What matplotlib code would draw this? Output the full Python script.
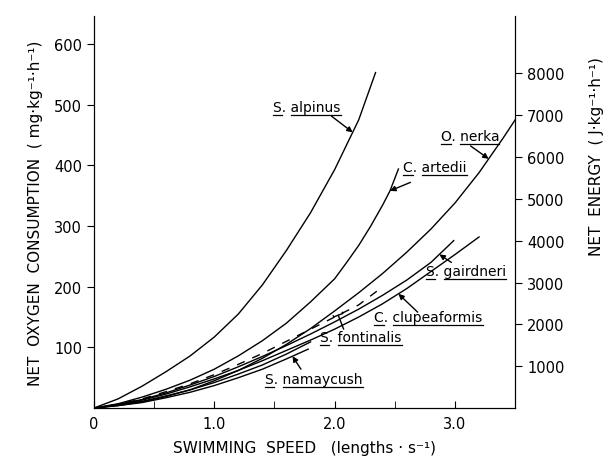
import numpy as np
import matplotlib.pyplot as plt

# 读图得到的数据 (速度: lengths/s, 耗氧: mg/kg/h)
alpinus_x = [0, 0.2, 0.4, 0.6, 0.8, 1.0, 1.2, 1.4, 1.6, 1.8, 2.0, 2.2, 2.34]
alpinus_y = [0, 15, 36, 60, 86, 117, 155, 203, 260, 322, 393, 475, 553]

artedii_x = [0, 0.2, 0.4, 0.6, 0.8, 1.0, 1.2, 1.4, 1.6, 1.8, 2.0, 2.1, 2.2, 2.3, 2.4, 2.46, 2.53]
artedii_y = [0, 7, 18, 31, 46, 64, 86, 111, 140, 175, 213, 240, 268, 300, 335, 358, 394]

nerka_x = [0, 0.2, 0.4, 0.6, 0.8, 1.0, 1.2, 1.4, 1.6, 1.8, 2.0, 2.2, 2.4, 2.6, 2.8, 3.0, 3.2, 3.4, 3.52]
nerka_y = [0, 4, 10, 19, 30, 45, 62, 82, 105, 131, 160, 190, 222, 257, 295, 338, 388, 445, 481]

gairdneri_x = [0, 0.2, 0.4, 0.6, 0.8, 1.0, 1.2, 1.4, 1.6, 1.8, 2.0, 2.2, 2.4, 2.6, 2.8, 2.99]
gairdneri_y = [0, 6, 14, 25, 38, 52, 68, 85, 103, 122, 142, 163, 186, 211, 240, 276]

clupea_x = [0, 0.2, 0.4, 0.6, 0.8, 1.0, 1.2, 1.4, 1.6, 1.8, 2.0, 2.2, 2.4, 2.6, 2.8, 3.0, 3.2]
clupea_y = [0, 5, 13, 23, 35, 48, 62, 78, 95, 112, 130, 150, 172, 197, 225, 253, 282]

fontinalis_x = [0, 0.2, 0.4, 0.6, 0.8, 1.0, 1.2, 1.4, 1.6, 1.8, 2.0, 2.2, 2.4]
fontinalis_y = [0, 6, 15, 27, 40, 55, 72, 90, 110, 130, 150, 170, 200]

namaycush_x = [0, 0.2, 0.4, 0.6, 0.8, 1.0, 1.2, 1.4, 1.6, 1.78]
namaycush_y = [0, 4, 9, 17, 26, 37, 50, 64, 81, 97]

other_x = [0, 0.2, 0.4, 0.6, 0.8, 1.0, 1.2, 1.4, 1.6, 1.8]
other_y = [0, 5, 11, 20, 30, 42, 56, 71, 89, 109]

J_PER_MG = 14.5  # 右轴换算

fig = plt.figure(figsize=(6.14, 4.64), dpi=100)
ax = fig.add_axes([0.153, 0.1185, 0.686, 0.8445])

lw = 1.0
ax.plot(alpinus_x, alpinus_y, color="black", lw=lw)
ax.plot(artedii_x, artedii_y, color="black", lw=lw)
ax.plot(nerka_x, nerka_y, color="black", lw=lw)
ax.plot(gairdneri_x, gairdneri_y, color="black", lw=lw)
ax.plot(clupea_x, clupea_y, color="black", lw=lw)
ax.plot(fontinalis_x, fontinalis_y, color="black", lw=lw, dashes=(6, 6))
ax.plot(namaycush_x, namaycush_y, color="black", lw=lw)
ax.plot(other_x, other_y, color="black", lw=lw)

ax.set_xlim(0, 3.5)
ax.set_ylim(0, 646)
ax.spines["top"].set_visible(False)
ax.set_xticks([0, 1, 2, 3])
ax.set_xticklabels(["0", "1.0", "2.0", "3.0"])
ax.set_xticks([0.5, 1.5, 2.5], minor=True)
ax.tick_params(axis="x", which="both", direction="in", length=5, labelsize=10.5, pad=6)
ax.set_yticks([100, 200, 300, 400, 500, 600])
ax.tick_params(axis="y", direction="out", length=5, labelsize=10.5)
ax.set_xlabel("SWIMMING  SPEED   (lengths · s⁻¹)", fontsize=11, labelpad=6)
ax.set_ylabel("NET  OXYGEN  CONSUMPTION  ( mg·kg⁻¹·h⁻¹)", fontsize=11, labelpad=8)

ax2 = ax.twinx()
ax2.set_ylim(0, 646 * J_PER_MG)
ax2.spines["top"].set_visible(False)
ax2.set_yticks([1000, 2000, 3000, 4000, 5000, 6000, 7000, 8000])
ax2.tick_params(axis="y", direction="out", length=5, labelsize=10.5)
ax2.set_ylabel("NET  ENERGY  ( J·kg⁻¹·h⁻¹)", fontsize=11)
ax2.yaxis.set_label_coords(1.175, 0.645)

# 标注: (属, 种, 文字位置, 箭尾, 箭头所指的 x, 曲线)
labels = [
    ("S", "alpinus", (1.49, 496), (1.975, 481), 2.15, alpinus_x, alpinus_y, "-|>"),
    ("O", "nerka", (2.88, 448), (3.13, 432), 3.28, nerka_x, nerka_y, "-|>"),
    ("C", "artedii", (2.57, 397), (2.63, 372), 2.46, artedii_x, artedii_y, "-|>"),
    ("S", "gairdneri", (2.76, 226), (2.97, 240), 2.87, gairdneri_x, gairdneri_y, "-|>"),
    ("C", "clupeaformis", (2.33, 150), (2.69, 158), 2.53, clupea_x, clupea_y, "-|>"),
    ("S", "fontinalis", (1.88, 117), (2.075, 130), 2.03, fontinalis_x, fontinalis_y, "-["),
    ("S", "namaycush", (1.425, 48), (1.72, 64), 1.65, namaycush_x, namaycush_y, "-|>"),
]

texts = []
for g, sp, pos, tail, xa, xs, ys, style in labels:
    t = ax.text(pos[0], pos[1], g + ". " + sp, fontsize=10, va="center", ha="left")
    texts.append((t, g))
    tip = (xa, np.interp(xa, xs, ys))
    if style == "-[":
        props = dict(arrowstyle="-[, widthB=0.35, lengthB=0.1", color="black", lw=1.0, shrinkA=0, shrinkB=0)
    else:
        props = dict(arrowstyle="-|>", mutation_scale=8, color="black", lw=1.0, shrinkA=0, shrinkB=0)
    ax.annotate("", xy=tip, xytext=tail, arrowprops=props)

# 下划线 (属名首字母和种名)
fig.canvas.draw()
r = fig.canvas.get_renderer()
inv = ax.transData.inverted()
for t, g in texts:
    bb = t.get_window_extent(r)
    prop = t.get_fontproperties()
    w_g, _, _ = r.get_text_width_height_descent(g, prop, ismath=False)
    w_gs, _, _ = r.get_text_width_height_descent(g + ". ", prop, ismath=False)
    yb = bb.y0 - 1
    for x0, x1 in [(bb.x0, bb.x0 + w_g), (bb.x0 + w_gs, bb.x1)]:
        p0 = inv.transform((x0, yb))
        p1 = inv.transform((x1, yb))
        ax.plot([p0[0], p1[0]], [p0[1], p1[1]], color="black", lw=0.9, clip_on=False)

fig.savefig("out.png", dpi=100)
